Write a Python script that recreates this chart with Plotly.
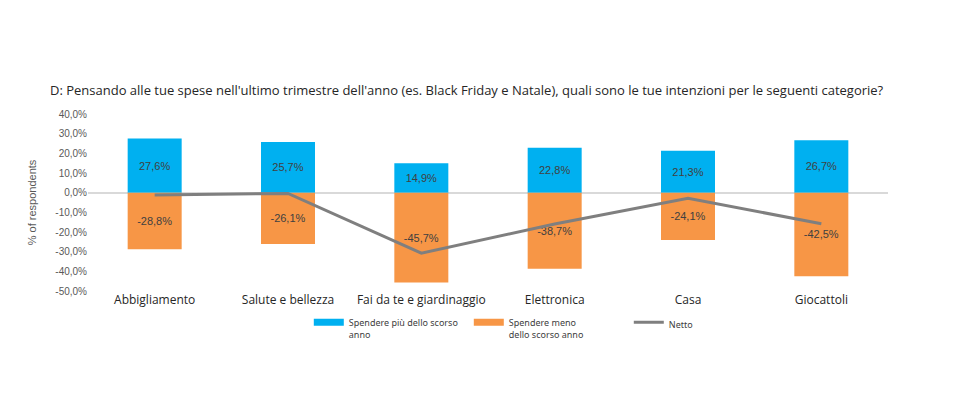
import plotly.graph_objects as go

categories = ["Abbigliamento", "Salute e bellezza", "Fai da te e giardinaggio", "Elettronica", "Casa", "Giocattoli"]
spend_more = [27.6, 25.7, 14.9, 22.8, 21.3, 26.7]
spend_less = [-28.8, -26.1, -45.7, -38.7, -24.1, -42.5]
netto = [-1.2, -0.4, -30.8, -15.9, -2.8, -15.8]
tick_vals = [40, 30, 20, 10, 0, -10, -20, -30, -40, -50]

name_more = "Spendere più dello scorso<br>anno"
name_less = "Spendere meno<br>dello scorso anno"
name_net = "Netto"
col_more = "#00B0F0"
col_less = "#F79646"
col_net = "#7F7F7F"

label_font = dict(family="Liberation Sans, Arial", size=11, color="#404040")

fig = go.Figure()
fig.add_trace(go.Bar(
    x=categories, y=spend_more, name=name_more, showlegend=False,
    marker=dict(color=col_more, line=dict(width=0)),
    text=[f"{v:.1f}%".replace(".", ",") for v in spend_more],
    textposition="inside", insidetextanchor="middle", textfont=label_font,
))
fig.add_trace(go.Bar(
    x=categories, y=spend_less, name=name_less, showlegend=False,
    marker=dict(color=col_less, line=dict(width=0)),
    text=[f"{v:.1f}%".replace(".", ",") for v in spend_less],
    textposition="inside", insidetextanchor="middle", textfont=label_font,
))
fig.add_trace(go.Scatter(
    x=categories, y=netto, name=name_net, mode="lines", showlegend=False,
    line=dict(color=col_net, width=3),
))
# legend entries (wide swatches like the original)
for nm, col, w in [(name_more, col_more, 7), (name_less, col_less, 7), (name_net, col_net, 3)]:
    fig.add_trace(go.Scatter(x=[None], y=[None], mode="lines", name=nm,
                             line=dict(color=col, width=w), showlegend=True))

fig.update_layout(
    width=959, height=394,
    paper_bgcolor="white", plot_bgcolor="white",
    barmode="relative", bargap=0.595,
    separators=",.",
    margin=dict(l=80, r=79, t=106, b=111),
    title=dict(
        text="D: Pensando alle tue spese nell'ultimo trimestre dell'anno (es. Black Friday e Natale), quali sono le tue intenzioni per le seguenti categorie?",
        x=0.0438, xanchor="left", y=0.792, yanchor="middle",
        font=dict(family="Open Sans, Noto Sans", size=13, color="#262626"),
    ),
    showlegend=True,
    legend=dict(
        orientation="h", x=0.276, xanchor="left", y=-0.107, yanchor="top",
        font=dict(family="Noto Sans, Open Sans", size=9, color="#404040"),
        entrywidth=115, traceorder="normal",
        valign="top", tracegroupgap=0,
    ),
)
fig.update_xaxes(
    showgrid=False, showline=False, ticks="",
    tickfont=dict(family="Open Sans, Noto Sans", size=12, color="#262626"),
)
fig.update_yaxes(
    range=[-50, 40], tickvals=tick_vals,
    ticktext=[f"{v:.1f}%".replace(".", ",") for v in tick_vals],
    showgrid=False, zeroline=True, zerolinecolor="#D9D9D9", zerolinewidth=1.5,
    showline=False,
    tickfont=dict(family="Liberation Sans, Arial", size=10, color="#595959"),
    title=dict(text="% of respondents", font=dict(family="Liberation Sans, Arial", size=11, color="#595959"), standoff=16),
)

fig.write_html("out.html")
